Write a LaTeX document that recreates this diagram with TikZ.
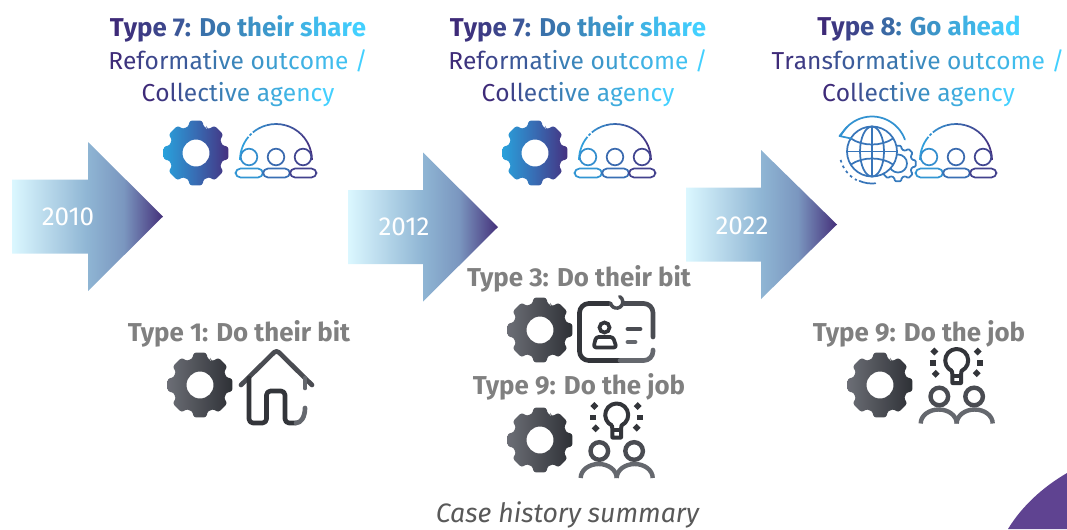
\documentclass[tikz,border=0pt]{standalone}
\usepackage{fontspec}
\usepackage{xcolor}
\setmainfont{Fira Sans}
\definecolor{tblue}{HTML}{2FA3DF}
\definecolor{tpurp}{HTML}{45307F}
\definecolor{gdark}{HTML}{33353A}
\definecolor{gmid}{HTML}{4A4C52}
\definecolor{glight}{HTML}{65686E}
\definecolor{lab}{HTML}{808080}
\definecolor{cornerpurple}{HTML}{5F4391}
\pgfdeclarehorizontalshading{arrowshade}{100bp}{rgb(0bp)=(.86,.97,1);rgb(25bp)=(.86,.97,1);rgb(50bp)=(.56,.71,.83);rgb(62bp)=(.48,.59,.75);rgb(75bp)=(.27,.19,.48);rgb(100bp)=(.27,.19,.48)}
\pgfdeclarehorizontalshading{gearblue}{100bp}{rgb(0bp)=(.16,.63,.86);rgb(25bp)=(.16,.63,.86);rgb(50bp)=(.22,.42,.70);rgb(75bp)=(.27,.19,.50);rgb(100bp)=(.27,.19,.50)}
\pgfdeclarehorizontalshading{geargray}{100bp}{rgb(0bp)=(.42,.43,.46);rgb(25bp)=(.42,.43,.46);rgb(75bp)=(.18,.19,.21);rgb(100bp)=(.18,.19,.21)}
\ExplSyntaxOn
\fp_new:N \l_gt_t_fp
\NewDocumentCommand\gradtext{m}{
  \int_set:Nn \l_tmpa_int {\str_count:n{#1}}
  \int_zero:N \l_tmpb_int
  \str_map_inline:nn {#1}{
    \int_incr:N \l_tmpb_int
    \fp_set:Nn \l_gt_t_fp { (\l_tmpb_int-1)/(\l_tmpa_int-1) }
    \definecolor{gt}{rgb}{
      \fp_eval:n { round( \l_gt_t_fp<0.45 ? 0.243+(0.227-0.243)*\l_gt_t_fp/0.45 : 0.227+(0.263-0.227)*(\l_gt_t_fp-0.45)/0.55 ,3)},
      \fp_eval:n { round( \l_gt_t_fp<0.45 ? 0.165+(0.498-0.165)*\l_gt_t_fp/0.45 : 0.498+(0.816-0.498)*(\l_gt_t_fp-0.45)/0.55 ,3)},
      \fp_eval:n { round( \l_gt_t_fp<0.45 ? 0.470+(0.706-0.470)*\l_gt_t_fp/0.45 : 0.706+(1.000-0.706)*(\l_gt_t_fp-0.45)/0.55 ,3)}
    }
    {\color{gt}\relax ##1}
  }
}
\ExplSyntaxOff
\tikzset{
  headline/.style={font=\fontsize{19.35}{22}\selectfont\bfseries,inner sep=0pt,anchor=center},
  subline/.style={font=\fontsize{18.4}{22}\selectfont,inner sep=0pt,anchor=center},
  graylabel/.style={font=\fontsize{19.4}{22}\selectfont\bfseries,text=lab,inner sep=0pt,anchor=center},
  yearlabel/.style={font=\fontsize{19.5}{22}\selectfont,text=white,inner sep=0pt,anchor=center},
  capt/.style={font=\fontsize{20}{24}\selectfont\itshape,text=black!65,inner sep=0pt,anchor=center},
  darkline/.style={line width=3.5pt,line cap=round,line join=round},
  thinline/.style={line width=1.3pt,line cap=round,line join=round}
}
% x, y of gear centre, shading
\newcommand\geargl[3]{%
  \shade[shading=#3,even odd rule,rounded corners=1.8pt,shift={(#1,#2)}]
    (-67:27) foreach \a in {-45,0,45,90,135,180,225,270}{
      -- (\a-17:27) -- (\a-11:33) -- (\a+11:33) -- (\a+17:27) -- (\a+22.5:27.5)
    } -- cycle
    (0,0) circle (13.5);
}
% tip-based arrow: x0, ycentre-body, xneck, tipx
\newcommand\bigarrow[4]{%
  \shade[shading=arrowshade] (#1,#2-37) -- (#3,#2-37) -- (#3,#2-74.5) -- (#4,#2) -- (#3,#2+74.5) -- (#3,#2+37) -- (#1,#2+37) -- cycle;
}
\newcommand\teamicon[1]{%
  \begin{scope}[xshift=#1*.75pt]
    \foreach \s/\e in {180/190,190/200,200/210,210/220,223/227,230/240,240/255,255/270,270/285,285/300,300/315,315/330,330/345,345/360}{
      \pgfmathtruncatemacro\p{100*(1+cos((\s+\e)/2))/2}
      \draw[line width=1.3pt,draw=tpurp!\p!tblue] ({276+36*cos(\s)},{160+36*sin(\s)}) arc (\s:\e:36);
    }
    \draw[thinline,draw=tpurp!18!tblue] (249,157) circle (8.3);
    \draw[thinline,draw=tpurp!50!tblue] (276,157) circle (8.3);
    \draw[thinline,draw=tpurp!82!tblue] (303,157) circle (8.3);
    \draw[thinline,draw=tpurp!12!tblue,rounded corners=3.8pt] (235.5,168.5) rectangle (263,177.5);
    \draw[thinline,draw=tpurp!45!tblue,rounded corners=3.8pt] (263,168.5) rectangle (290,177.5);
    \draw[thinline,draw=tpurp!85!tblue,rounded corners=3.8pt] (290,168.5) rectangle (316.5,177.5);
  \end{scope}
}
\newcommand\ideaicon[2]{%
  \begin{scope}[shift={(#1,#2)}]
    % bulb at origin
    \draw[line width=3pt,line join=round,draw=gdark] (-4.86,10.4) -- (-4.3,14) -- (-4.3,22.5) -- (4.3,22.5) -- (4.3,14) -- (4.86,10.4) arc (65:-245:11.5) -- cycle;
    \draw[line width=3pt,draw=gdark] (-5,15) -- (5,15);
    \foreach \x/\y/\r in {-22.3/-9/45,21/-9/-45,-24/2.3/0,23.3/2.3/0,-21/13.3/-45,20/12.7/45}{
      \fill[gdark,shift={(\x,\y)},rotate=\r] (-2.8,-2.8) rectangle (2.8,2.8);
    }
    \draw[line width=3.3pt,draw=gmid] (-17.4,36) circle (8.8);
    \draw[line width=3.3pt,draw=gmid] (17.4,36) circle (8.8);
    \draw[line width=3.3pt,draw=glight] (-36,63) arc (180:360:18 and 14);
    \draw[line width=3.3pt,draw=glight] (0,63) arc (180:360:18 and 14);
  \end{scope}
}
\begin{document}
\begin{tikzpicture}[x=.75pt,y=-.75pt]
\useasboundingbox (0,0) rectangle (1067,529);
% arrows
\bigarrow{12}{216.5}{88}{163}
\bigarrow{348}{227}{423}{498}
\bigarrow{686}{224.5}{761}{837}
\node[yearlabel] (y1) at (68,217) {2010};
\node[yearlabel] (y2) at (404,227) {2012};
\node[yearlabel] (y3) at (742,226) {2022};
% headings
\node[headline] (h1) at (238,28.5) {\gradtext{Type 7: Do their share}};
\node[subline] (s1a) at (238,61) {\gradtext{Reformative outcome /}};
\node[subline] (s1b) at (238,95) {\gradtext{Collective agency}};
\node[headline] (h2) at (578,28.5) {\gradtext{Type 7: Do their share}};
\node[subline] (s2a) at (578,61) {\gradtext{Reformative outcome /}};
\node[subline] (s2b) at (578,95) {\gradtext{Collective agency}};
\node[headline] (h3) at (919,28.5) {\gradtext{Type 8: Go ahead}};
\node[subline] (s3a) at (918,61) {\gradtext{Transformative outcome /}};
\node[subline] (s3b) at (918.5,95) {\gradtext{Collective agency}};
% top icons
\geargl{196}{153}{gearblue}
\geargl{535}{153}{gearblue}
\teamicon{0}
\teamicon{339}
\teamicon{680}
% globe and small gear
\begin{scope}[shift={(898,163.5)}]
  \draw[thinline,draw=tpurp!35!tblue,fill=white,rounded corners=.8pt]
    (-67:14.5) foreach \a in {-45,0,45,90,135,180,225,270}{
      -- (\a-15:14.5) -- (\a-10:18) -- (\a+10:18) -- (\a+15:14.5) -- (\a+22.5:14.5)
    } -- cycle;
  \draw[thinline,draw=tpurp!35!tblue] (0,0) circle (9);
\end{scope}
\begin{scope}[shift={(872,151.5)}]
  \draw[thinline,draw=tpurp!40!tblue,fill=white] (0,0) circle (25);
  \draw[thinline,draw=tpurp!40!tblue] (0,0) ellipse (12 and 25);
  \draw[thinline,draw=tpurp!40!tblue] (0,-25) -- (0,25);
  \draw[thinline,draw=tpurp!40!tblue] (-25,0) -- (25,0);
  \draw[thinline,draw=tpurp!40!tblue] (-21,-13) .. controls (-10,-5) and (10,-5) .. (21,-13);
  \draw[thinline,draw=tpurp!40!tblue] (-21,13) .. controls (-10,5) and (10,5) .. (21,13);
  \draw[thinline,draw=tblue!85!tpurp] (206:35) arc (206:340:35);
  \draw[thinline,draw=tblue!85!tpurp] (-25,-24.5) -- (-32.5,-15.5) -- (-21,-13);
  \draw[line width=1.3pt,draw=tpurp!40!tblue,dash pattern=on 2pt off 2.6pt] (165:32.5) arc (165:118:32.5);
  \draw[thinline,draw=tpurp!40!tblue] (113:32) arc (113:84:32);
\end{scope}
% gray section
\node[graylabel] (t1) at (239,334) {Type 1: Do their bit};
\node[graylabel] (t3) at (579,279) {Type 3: Do their bit};
\node[graylabel] (t9a) at (579,387) {Type 9: Do the job};
\node[graylabel] (t9b) at (919,334) {Type 9: Do the job};
\geargl{200}{385}{geargray}
\geargl{540}{330}{geargray}
\geargl{540}{440}{geargray}
\geargl{880}{385}{geargray}
% house
\draw[darkline,draw=gmid,rounded corners=2.5pt] (241,385) -- (276.5,350) -- (312,385);
\draw[darkline,draw=gdark,rounded corners=3pt] (249,378) -- (249,423) -- (266.5,423) -- (266.5,391) -- (285,391) -- (285,423) -- (296,423);
\draw[darkline,draw=glight] (296,423) .. controls (301,423) and (305,417) .. (305,408);
\draw[darkline,draw=glight] (305,378) -- (305,388);
% id card
\draw[darkline,draw=gdark,rounded corners=7pt] (609,303.5) -- (579.5,303.5) -- (579.5,360.5) -- (620,360.5);
\draw[darkline,draw=glight,rounded corners=7pt] (620,360.5) -- (653,360.5) -- (653,350);
\draw[darkline,draw=gmid,rounded corners=7pt] (624,303.5) -- (653,303.5) -- (653,337);
\draw[line width=2.6pt,draw=gmid,line cap=round] (610.5,303) arc (170:-60:6.2);
\draw[line width=2.8pt,draw=gdark] (604.5,327.5) circle (5);
\draw[line width=2.8pt,draw=gdark,line join=round,rounded corners=2pt] (593.5,347.5) -- (596,337) -- (613,337) -- (616.5,347.5) -- cycle;
\draw[line width=3.6pt,line cap=round,draw=gmid] (628,329) -- (640,329);
\draw[line width=3.6pt,line cap=round,draw=glight] (628,342) -- (635,342);
% ideas
\ideaicon{616.7}{415}
\ideaicon{956.7}{360.5}
% caption and corner
\node[capt] (c) at (567.5,515) {Case history summary};
\fill[fill=cornerpurple] (1008,529) .. controls (1022,506) and (1043,487) .. (1067,473) -- (1067,529) -- cycle;
\end{tikzpicture}
\end{document}
